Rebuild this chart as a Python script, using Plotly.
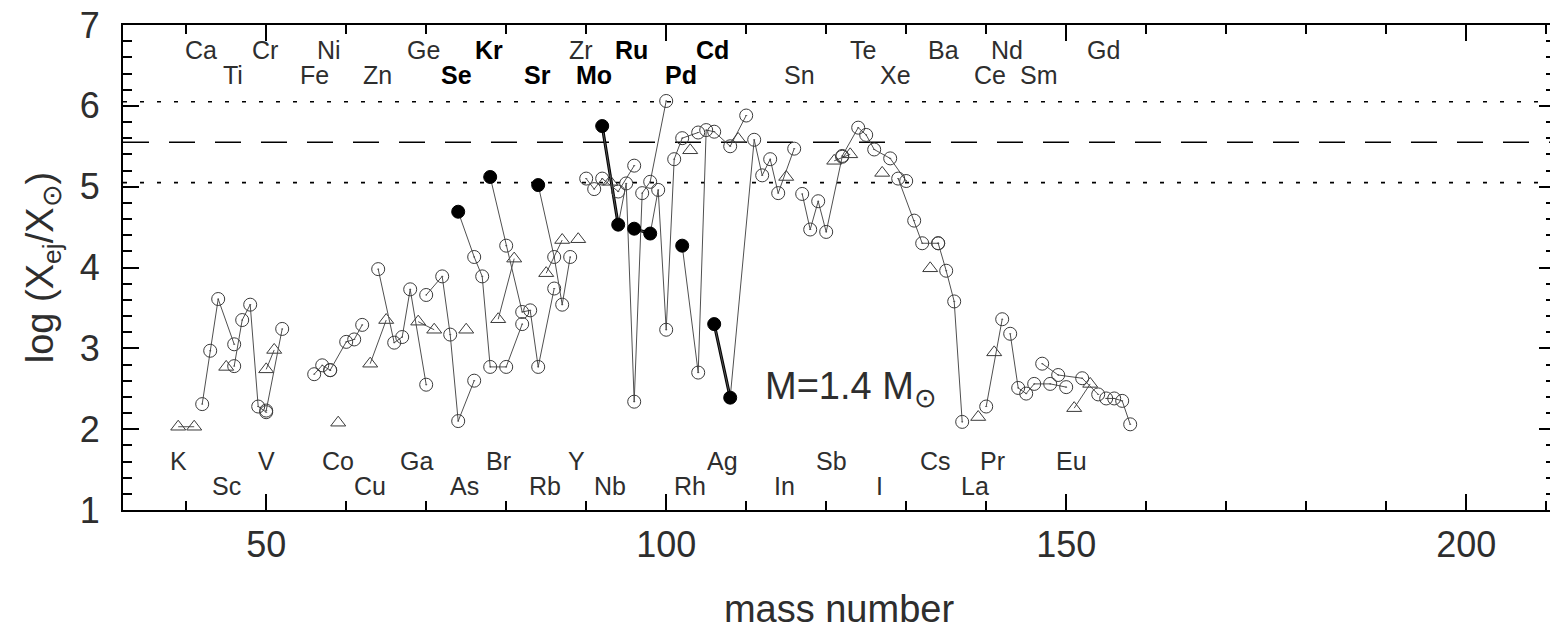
import plotly.graph_objects as go

# ---------------- data ----------------
element = (
    ["K"] * 2 + ["Ca"] * 4 + ["Sc"] + ["Ti"] * 5 + ["V"] * 2 + ["Cr"] * 2 +
    ["Fe"] * 3 + ["Co"] + ["Ni"] * 4 + ["Cu"] * 2 + ["Zn"] * 5 + ["Ga"] * 2 +
    ["Ge"] * 5 + ["As"] + ["Se"] * 6 + ["Br"] * 2 + ["Kr"] * 6 + ["Rb"] * 2 +
    ["Sr"] * 4 + ["Y"] + ["Zr"] * 5 + ["Nb"] + ["Mo"] * 7 + ["Ru"] * 7 +
    ["Rh"] + ["Pd"] * 6 + ["Ag"] + ["Cd"] * 7 + ["In"] + ["Sn"] * 5 +
    ["Sb"] * 2 + ["Te"] * 6 + ["I"] + ["Xe"] * 4 + ["Cs"] + ["Ba"] * 4 +
    ["La"] + ["Ce"] * 2 + ["Pr"] + ["Nd"] * 6 + ["Sm"] * 4 + ["Eu"] * 2 +
    ["Gd"] * 4
)
mass_number = [
    39, 41,
    42, 43, 44, 46,
    45,
    46, 47, 48, 49, 50,
    50, 51,
    50, 52,
    56, 57, 58,
    59,
    58, 60, 61, 62,
    63, 65,
    64, 66, 67, 68, 70,
    69, 71,
    70, 72, 73, 74, 76,
    75,
    74, 76, 77, 78, 80, 82,
    79, 81,
    78, 80, 82, 83, 84, 86,
    85, 87,
    84, 86, 87, 88,
    89,
    90, 91, 92, 94, 96,
    93,
    92, 94, 95, 96, 97, 98, 100,
    96, 98, 99, 100, 101, 102, 104,
    103,
    102, 104, 105, 106, 108, 110,
    109,
    106, 108, 111, 112, 113, 114, 116,
    115,
    117, 118, 119, 120, 122,
    121, 123,
    122, 124, 125, 126, 128, 130,
    127,
    129, 131, 132, 134,
    133,
    134, 135, 136, 137,
    139,
    140, 142,
    141,
    143, 144, 145, 146, 148, 150,
    147, 149, 152, 154,
    151, 153,
    155, 156, 157, 158,
]
log_ratio = [
    2.03, 2.03,
    2.31, 2.97, 3.61, 3.05,
    2.77,
    2.78, 3.35, 3.54, 2.28, 2.21,
    2.74, 2.98,
    2.23, 3.24,
    2.68, 2.79, 2.73,
    2.08,
    2.73, 3.08, 3.11, 3.29,
    2.81, 3.35,
    3.98, 3.07, 3.14, 3.73, 2.55,
    3.33, 3.23,
    3.66, 3.89, 3.17, 2.10, 2.60,
    3.23,
    4.69, 4.13, 3.89, 2.77, 2.77, 3.30,
    3.36, 4.11,
    5.12, 4.27, 3.45, 3.47, 2.77, 3.74,
    3.93, 4.34,
    5.02, 4.13, 3.54, 4.13,
    4.35,
    5.10, 4.97, 5.10, 4.94, 5.26,
    5.06,
    5.75, 4.53, 5.04, 2.34, 4.92, 5.06, 6.06,
    4.48, 4.42, 4.96, 3.23, 5.34, 5.60, 5.67,
    5.45,
    4.27, 2.70, 5.70, 5.68, 5.50, 5.88,
    5.59,
    3.30, 2.39, 5.58, 5.14, 5.34, 4.92, 5.47,
    5.12,
    4.91, 4.47, 4.82, 4.44, 5.37,
    5.32, 5.40,
    5.38, 5.73, 5.64, 5.46, 5.35, 5.07,
    5.17,
    5.10, 4.58, 4.30, 4.30,
    3.99,
    4.30, 3.96, 3.58, 2.09,
    2.15,
    2.28, 3.36,
    2.95,
    3.18, 2.51, 2.44, 2.56, 2.56, 2.52,
    2.81, 2.67, 2.63, 2.43,
    2.26, 2.56,
    2.38, 2.38, 2.35, 2.06,
]
odd_z_elements = ["K", "Sc", "V", "Co", "Cu", "Ga", "As", "Br", "Rb", "Y", "Nb",
                  "Rh", "Ag", "In", "Sb", "I", "Cs", "La", "Pr", "Eu"]
p_nuclei = [("Se", 74), ("Kr", 78), ("Sr", 84), ("Mo", 92), ("Mo", 94), ("Ru", 96),
            ("Ru", 98), ("Pd", 102), ("Cd", 106), ("Cd", 108)]

# element labels: (name, mass position)
labels_top1 = [("Ca", 41.9), ("Cr", 49.9), ("Ni", 57.9), ("Ge", 69.6), ("Kr", 77.8),
               ("Zr", 89.3), ("Ru", 95.7), ("Cd", 105.8), ("Te", 124.6), ("Ba", 134.6),
               ("Nd", 142.6), ("Gd", 154.6)]
labels_top2 = [("Ti", 45.8), ("Fe", 56.0), ("Zn", 63.9), ("Se", 73.8), ("Sr", 83.9),
               ("Mo", 91.0), ("Pd", 101.8), ("Sn", 116.7), ("Xe", 128.7), ("Ce", 140.5),
               ("Sm", 146.6)]
labels_bot1 = [("K", 39.0), ("V", 50.0), ("Co", 59.0), ("Ga", 68.8), ("Br", 79.0),
               ("Y", 88.8), ("Ag", 107.0), ("Sb", 120.7), ("Cs", 133.6), ("Pr", 140.8),
               ("Eu", 150.7)]
labels_bot2 = [("Sc", 45.0), ("Cu", 63.0), ("As", 74.8), ("Rb", 84.8), ("Nb", 93.0),
               ("Rh", 103.0), ("In", 114.8), ("I", 126.7), ("La", 138.6)]
bold_labels = ["Se", "Kr", "Sr", "Mo", "Ru", "Pd", "Cd"]

solar_line = 5.55
solar_band = [6.05, 5.05]

# ---------------- figure ----------------
FONT = "Liberation Sans"
TXT = "#2e2e2e"
fig = go.Figure()

order = []
for e in element:
    if e not in order:
        order.append(e)

# bold segments between neighbouring p-nuclei of the same element
for e in order:
    pts = sorted((a, v) for el, a, v in zip(element, mass_number, log_ratio)
                 if el == e and (el, a) in p_nuclei)
    if len(pts) >= 2:
        fig.add_trace(go.Scatter(x=[p[0] for p in pts], y=[p[1] for p in pts],
                                 mode="lines", line=dict(color="black", width=3),
                                 showlegend=False, hoverinfo="skip"))

for e in order:
    pts = sorted((a, v) for el, a, v in zip(element, mass_number, log_ratio) if el == e)
    xs = [p[0] for p in pts]
    ys = [p[1] for p in pts]
    symbols, colors = [], []
    for a in xs:
        if (e, a) in p_nuclei:
            symbols.append("circle")
            colors.append("black")
        elif e in odd_z_elements:
            symbols.append("triangle-up-open")
            colors.append("#3a3a3a")
        else:
            symbols.append("circle-open-dot")
            colors.append("#3a3a3a")
    fig.add_trace(go.Scatter(
        x=xs, y=ys, mode="lines+markers", name=e,
        line=dict(color="#505050", width=1),
        marker=dict(symbol=symbols, color=colors, size=13,
                    line=dict(width=1, color=colors)),
        showlegend=False))

for yv, dash in [(solar_line, "26px,20px"), (solar_band[0], "4px,13px"), (solar_band[1], "4px,13px")]:
    fig.add_shape(type="line", xref="paper", x0=0, x1=1, yref="y", y0=yv, y1=yv,
                  line=dict(color="black", width=1.6, dash=dash), layer="below")

def add_labels(lst, yv):
    for name, xpos in lst:
        txt = f"<b>{name}</b>" if name in bold_labels else name
        fig.add_annotation(x=xpos, y=yv, xref="x", yref="y", text=txt, showarrow=False,
                           font=dict(family=FONT, size=25,
                                     color="black" if name in bold_labels else TXT))

add_labels(labels_top1, 6.69)
add_labels(labels_top2, 6.38)
add_labels(labels_bot1, 1.61)
add_labels(labels_bot2, 1.30)

fig.add_annotation(x=112.1, y=2.50, xref="x", yref="y", showarrow=False,
                   xanchor="left", yanchor="middle",
                   text="M=1.4 M<sub>⊙</sub>",
                   font=dict(family=FONT, size=38, color=TXT))

axis_common = dict(showline=True, linecolor="black", linewidth=2, mirror="allticks",
                   ticks="inside", tickcolor="black", tickwidth=1.5, ticklen=16,
                   showgrid=False, zeroline=False, ticklabeloverflow="allow",
                   tickfont=dict(family=FONT, size=36, color=TXT))

fig.update_xaxes(range=[32.1, 211.1], dtick=50, tick0=0,
                 minor=dict(ticks="inside", dtick=10, ticklen=9, tickcolor="black", tickwidth=1.5),
                 ticklabelstandoff=2,
                 title=dict(text="mass number", font=dict(family=FONT, size=38, color=TXT),
                            standoff=34),
                 **axis_common)
fig.update_yaxes(range=[1, 7], dtick=1, tick0=0,
                 minor=dict(ticks="inside", dtick=0.2, ticklen=9, tickcolor="black", tickwidth=1.5),
                 ticklabelstandoff=14,
                 title=dict(text="log (X<sub>ej</sub>/X<sub>⊙</sub>)",
                            font=dict(family=FONT, size=38, color=TXT), standoff=14),
                 **axis_common)

fig.update_layout(width=1550, height=622, plot_bgcolor="white", paper_bgcolor="white",
                  margin=dict(l=115, r=3, t=17, b=120, autoexpand=False))

fig.write_html("out.html")
